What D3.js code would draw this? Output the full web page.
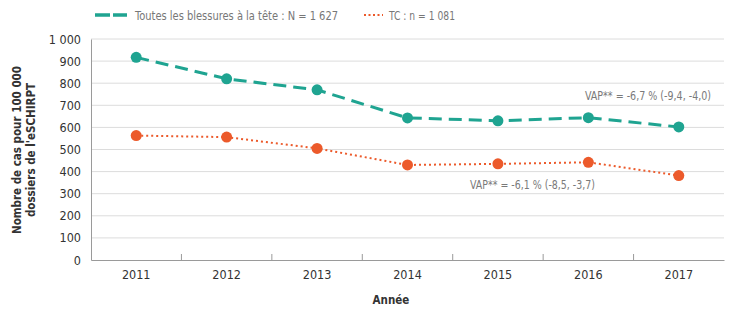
<!DOCTYPE html>
<html><head><meta charset="utf-8">
<script src="https://cdn.jsdelivr.net/npm/d3@7"></script>
<style>
body{margin:0;background:#fff;}
text{font-family:"DejaVu Sans Condensed","DejaVu Sans",sans-serif;}
</style></head>
<body><svg id="c" width="736" height="319"></svg>
<script>
const years = ["2011","2012","2013","2014","2015","2016","2017"];
const allHead = [917, 820, 770, 643, 630, 644, 602];
const tc = [563, 556, 505, 430, 435, 442, 382];
const yTicks = [0,100,200,300,400,500,600,700,800,900,1000];
const legendLabels = ["Toutes les blessures à la tête : N = 1 627", "TC : n = 1 081"];
const annotations = ["VAP** = -6,7 % (-9,4, -4,0)", "VAP** = -6,1 % (-8,5, -3,7)"];

const svg = d3.select("#c");
const L = 91, R = 724, T = 39, B = 260;
const x = d3.scaleBand().domain(years).range([L, R]);
const y = d3.scaleLinear().domain([0, 1000]).range([B, T]);
const fmt = v => d3.format(",")(v).replace(",", " ");

const teal = "#1fa491", orange = "#ec5a2b";

// gridlines
svg.append("g").selectAll("line").data(yTicks.filter(d => d > 0)).join("line")
  .attr("x1", L).attr("x2", R).attr("y1", d => y(d)).attr("y2", d => y(d))
  .attr("stroke", "#dcdcdc").attr("stroke-width", 1);

// y axis
const ya = svg.append("g").attr("transform", `translate(${L},0)`)
  .call(d3.axisLeft(y).tickValues(yTicks).tickFormat(fmt).tickSize(0).tickPadding(10));
ya.select(".domain").attr("stroke", "#9a9a9a");
ya.selectAll("text").attr("font-size", 12.5).attr("fill", "#333");

// x axis
const xa = svg.append("g").attr("transform", `translate(0,${B})`)
  .call(d3.axisBottom(x).tickSize(0).tickPadding(10));
xa.select(".domain").attr("stroke", "#9a9a9a").attr("stroke-width", 1.2);
xa.selectAll("text").attr("font-size", 12.5).attr("fill", "#333");
// inward boundary ticks
svg.append("g").selectAll("line").data(years.slice(1)).join("line")
  .attr("x1", d => x(d)).attr("x2", d => x(d)).attr("y1", B).attr("y2", B - 6)
  .attr("stroke", "#9a9a9a");

const cx = d => x(d) + x.bandwidth() / 2;
const line = d3.line().x(d => cx(d[0])).y(d => y(d[1]));

function series(vals, color, dash, w) {
  const data = years.map((yr, i) => [yr, vals[i]]);
  svg.append("path").datum(data).attr("d", line).attr("fill", "none")
    .attr("stroke", color).attr("stroke-width", w).attr("stroke-dasharray", dash);
  svg.append("g").selectAll("circle").data(data).join("circle")
    .attr("cx", d => cx(d[0])).attr("cy", d => y(d[1])).attr("r", 5.5).attr("fill", color);
}
series(allHead, teal, "13,7", 3);
series(tc, orange, "2,3", 2);

// annotations
svg.append("text").attr("x", 585).attr("y", 100).attr("font-size", 12).attr("fill", "#7a7a7a")
  .attr("textLength", 126).attr("lengthAdjust", "spacingAndGlyphs").text(annotations[0]);
svg.append("text").attr("x", 470).attr("y", 189).attr("font-size", 12).attr("fill", "#7a7a7a")
  .attr("textLength", 125).attr("lengthAdjust", "spacingAndGlyphs").text(annotations[1]);

// legend
svg.append("line").attr("x1", 95).attr("x2", 127).attr("y1", 15).attr("y2", 15)
  .attr("stroke", teal).attr("stroke-width", 3.5).attr("stroke-dasharray", "15,3");
svg.append("text").attr("x", 135).attr("y", 19.5).attr("font-size", 12.5).attr("fill", "#777")
  .attr("textLength", 203).attr("lengthAdjust", "spacingAndGlyphs").text(legendLabels[0]);
svg.append("line").attr("x1", 364).attr("x2", 383).attr("y1", 15).attr("y2", 15)
  .attr("stroke", orange).attr("stroke-width", 2).attr("stroke-dasharray", "2,2.5");
svg.append("text").attr("x", 389).attr("y", 19.5).attr("font-size", 12.5).attr("fill", "#777")
  .attr("textLength", 66).attr("lengthAdjust", "spacingAndGlyphs").text(legendLabels[1]);

// axis titles
const yt = svg.append("text").attr("transform", "translate(21,150) rotate(-90)")
  .attr("text-anchor", "middle").attr("font-size", 11.5).attr("font-weight", "bold").attr("fill", "#333");
yt.append("tspan").attr("x", 0).attr("dy", 0).text("Nombre de cas pour 100 000");
yt.append("tspan").attr("x", 0).attr("dy", 14).text("dossiers de l'eSCHIRPT");
svg.append("text").attr("x", 391).attr("y", 304).attr("text-anchor", "middle")
  .attr("font-size", 11.5).attr("font-weight", "bold").attr("fill", "#333").text("Année");
</script></body></html>
